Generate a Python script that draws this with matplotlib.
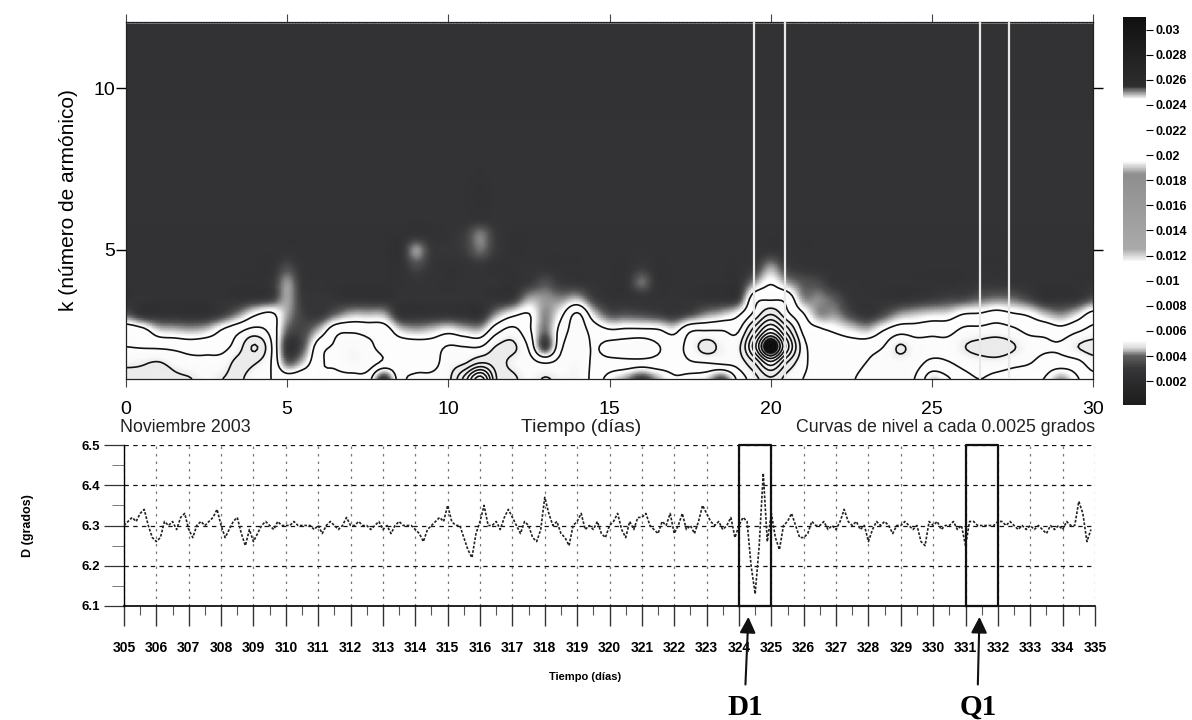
import numpy as np
import matplotlib
matplotlib.use("Agg")
import matplotlib.pyplot as plt
from matplotlib.cm import ScalarMappable
from matplotlib.colors import LinearSegmentedColormap, Normalize

plt.rcParams["font.family"] = ["Liberation Sans", "DejaVu Sans"]

W, H = 1192, 720

# harmonic amplitude, in 1e-4 grados
# one line per half day (t = 0, 0.5 ... 30), k = 1, 1.5 ... 5.5
k_rows = [1, 1.5, 2, 2.5, 3, 3.5, 4, 4.5, 5, 5.5, 6, 8, 10, 12]
amp_lines = [
    [140, 118, 100, 95, 42, 26, 25, 25, 25, 25],
    [135, 122, 98, 84, 28, 26, 25, 25, 25, 25],
    [150, 127, 96, 62, 26, 25, 25, 25, 25, 25],
    [132, 115, 94, 58, 26, 25, 25, 25, 25, 25],
    [126, 108, 90, 55, 25, 25, 25, 25, 25, 25],
    [115, 105, 92, 60, 26, 25, 25, 25, 25, 25],
    [125, 112, 92, 78, 34, 26, 25, 25, 25, 25],
    [130, 133, 115, 95, 50, 26, 25, 25, 25, 25],
    [108, 127, 153, 108, 72, 28, 25, 25, 25, 25],
    [100, 100, 103, 92, 80, 32, 28, 25, 25, 25],
    [88, 44, 28, 42, 52, 52, 50, 36, 26, 25],
    [95, 60, 40, 36, 33, 30, 28, 26, 25, 25],
    [98, 96, 90, 58, 30, 28, 26, 25, 25, 25],
    [95, 103, 103, 92, 44, 27, 25, 25, 25, 25],
    [92, 115, 115, 96, 56, 26, 25, 25, 25, 25],
    [88, 112, 106, 92, 56, 26, 25, 25, 25, 25],
    [25, 95, 92, 88, 54, 26, 25, 25, 25, 25],
    [90, 92, 90, 62, 28, 26, 25, 25, 25, 25],
    [105, 90, 88, 55, 26, 26, 27, 36, 50, 26],
    [106, 92, 88, 60, 27, 26, 26, 28, 30, 25],
    [118, 112, 102, 68, 28, 26, 25, 25, 28, 26],
    [185, 122, 100, 60, 26, 26, 26, 26, 32, 32],
    [265, 150, 100, 58, 26, 26, 26, 28, 44, 46],
    [150, 137, 127, 92, 52, 26, 26, 25, 30, 30],
    [131, 118, 130, 108, 70, 30, 25, 25, 25, 25],
    [115, 110, 96, 80, 76, 52, 30, 26, 25, 25],
    [127, 99, 32, 44, 48, 50, 38, 26, 25, 25],
    [118, 108, 96, 85, 70, 48, 30, 25, 25, 25],
    [118, 116, 114, 112, 104, 55, 28, 25, 25, 25],
    [92, 96, 98, 90, 62, 34, 26, 25, 25, 25],
    [66, 92, 108, 78, 40, 26, 25, 25, 25, 25],
    [50, 92, 112, 80, 40, 26, 26, 25, 25, 25],
    [30, 90, 115, 80, 38, 27, 44, 30, 26, 25],
    [52, 90, 102, 78, 34, 26, 26, 25, 25, 25],
    [72, 86, 90, 68, 30, 26, 25, 25, 25, 25],
    [66, 97, 110, 97, 38, 26, 25, 25, 25, 25],
    [60, 100, 135, 100, 50, 26, 25, 25, 25, 25],
    [35, 105, 118, 100, 58, 26, 25, 25, 25, 25],
    [82, 110, 118, 98, 72, 32, 26, 25, 25, 25],
    [115, 150, 215, 165, 108, 90, 50, 30, 26, 25],
    [145, 215, 335, 235, 150, 95, 72, 50, 27, 25],
    [115, 150, 215, 165, 108, 92, 52, 32, 26, 25],
    [100, 108, 112, 95, 78, 50, 40, 27, 25, 25],
    [90, 88, 88, 80, 50, 48, 36, 26, 25, 25],
    [85, 86, 88, 72, 50, 40, 27, 25, 25, 25],
    [97, 90, 86, 64, 36, 28, 26, 25, 25, 25],
    [108, 101, 90, 58, 28, 26, 25, 25, 25, 25],
    [108, 110, 100, 75, 38, 26, 25, 25, 25, 25],
    [112, 115, 128, 90, 52, 26, 25, 25, 25, 25],
    [98, 108, 112, 88, 58, 28, 25, 25, 25, 25],
    [60, 94, 108, 92, 62, 31, 25, 25, 25, 25],
    [72, 98, 108, 92, 64, 34, 25, 25, 25, 25],
    [92, 108, 124, 106, 76, 36, 26, 25, 25, 25],
    [100, 114, 133, 108, 78, 42, 28, 25, 25, 25],
    [92, 115, 138, 112, 85, 46, 28, 25, 25, 25],
    [85, 108, 128, 106, 78, 44, 27, 25, 25, 25],
    [78, 102, 112, 94, 72, 36, 26, 25, 25, 25],
    [74, 90, 104, 92, 58, 26, 25, 25, 25, 25],
    [50, 88, 104, 84, 50, 26, 25, 25, 25, 25],
    [72, 92, 124, 96, 62, 28, 25, 25, 25, 25],
    [92, 112, 134, 108, 84, 38, 26, 25, 25, 25],
]
amp_upper = [26, 26, 25, 25]  # k = 6, 8, 10, 12, flat background

contour_levels = [0.0075 + 0.0025 * i for i in range(11)]
white_lines = [19.48, 20.46, 26.5, 27.4]

cbar_ticks = [0.002, 0.004, 0.006, 0.008, 0.01, 0.012, 0.014, 0.016, 0.018, 0.02,
              0.022, 0.024, 0.026, 0.028, 0.03]
cbar_labels = ["0.002", "0.004", "0.006", "0.008", "0.01", "0.012", "0.014", "0.016",
               "0.018", "0.02", "0.022", "0.024", "0.026", "0.028", "0.03"]

# declination D, 8 readings per day, one line per day from 305 to 334
d_lines = [
    [6.30, 6.31, 6.32, 6.31, 6.33, 6.34, 6.30, 6.27],
    [6.26, 6.27, 6.31, 6.30, 6.31, 6.29, 6.32, 6.33],
    [6.29, 6.27, 6.30, 6.31, 6.30, 6.31, 6.32, 6.34],
    [6.30, 6.27, 6.29, 6.31, 6.32, 6.28, 6.25, 6.29],
    [6.26, 6.28, 6.30, 6.31, 6.30, 6.29, 6.31, 6.30],
    [6.30, 6.30, 6.31, 6.30, 6.30, 6.30, 6.30, 6.29],
    [6.30, 6.28, 6.30, 6.31, 6.30, 6.29, 6.30, 6.32],
    [6.30, 6.30, 6.31, 6.30, 6.30, 6.29, 6.30, 6.31],
    [6.29, 6.30, 6.28, 6.30, 6.31, 6.30, 6.30, 6.30],
    [6.29, 6.28, 6.26, 6.29, 6.30, 6.31, 6.32, 6.31],
    [6.35, 6.31, 6.30, 6.30, 6.27, 6.24, 6.22, 6.28],
    [6.31, 6.35, 6.30, 6.30, 6.31, 6.29, 6.32, 6.34],
    [6.32, 6.30, 6.28, 6.31, 6.30, 6.27, 6.26, 6.29],
    [6.37, 6.33, 6.30, 6.31, 6.28, 6.27, 6.25, 6.30],
    [6.31, 6.33, 6.29, 6.30, 6.29, 6.31, 6.28, 6.27],
    [6.30, 6.31, 6.33, 6.29, 6.27, 6.31, 6.29, 6.32],
    [6.32, 6.33, 6.30, 6.29, 6.28, 6.31, 6.30, 6.33],
    [6.28, 6.30, 6.33, 6.29, 6.30, 6.28, 6.31, 6.35],
    [6.33, 6.31, 6.30, 6.31, 6.29, 6.30, 6.32, 6.27],
    [6.30, 6.32, 6.31, 6.20, 6.13, 6.25, 6.43, 6.26],
    [6.33, 6.27, 6.24, 6.30, 6.31, 6.33, 6.30, 6.27],
    [6.27, 6.28, 6.31, 6.30, 6.30, 6.31, 6.29, 6.30],
    [6.29, 6.31, 6.34, 6.31, 6.30, 6.31, 6.29, 6.30],
    [6.26, 6.29, 6.31, 6.30, 6.31, 6.30, 6.28, 6.30],
    [6.30, 6.31, 6.30, 6.29, 6.30, 6.26, 6.25, 6.31],
    [6.30, 6.31, 6.29, 6.30, 6.30, 6.31, 6.29, 6.30],
    [6.25, 6.31, 6.31, 6.30, 6.30, 6.30, 6.30, 6.30],
    [6.31, 6.31, 6.30, 6.31, 6.30, 6.29, 6.30, 6.29],
    [6.30, 6.29, 6.30, 6.29, 6.28, 6.30, 6.29, 6.30],
    [6.29, 6.31, 6.30, 6.30, 6.36, 6.33, 6.26, 6.29],
]
d_values = np.concatenate(d_lines)
d_days = 305 + np.arange(len(d_values)) / 8

day_ticks = list(range(305, 336))


def add_axes_px(left, top, right, bottom):
    return fig.add_axes([left / W, 1 - bottom / H, (right - left) / W, (bottom - top) / H])


def refine(a, n, axis):
    # catmull-rom between the read values, only so the map is not blocky
    a = np.moveaxis(a, axis, 0)
    pos = np.linspace(0, a.shape[0] - 1, (a.shape[0] - 1) * n + 1)
    i = np.clip(pos.astype(int), 0, a.shape[0] - 2)
    u = (pos - i).reshape((-1,) + (1,) * (a.ndim - 1))
    p0 = a[np.clip(i - 1, 0, None)]
    p1 = a[i]
    p2 = a[i + 1]
    p3 = a[np.clip(i + 2, None, a.shape[0] - 1)]
    out = 0.5 * (2 * p1 + (p2 - p0) * u + (2 * p0 - 5 * p1 + 4 * p2 - p3) * u**2
                 + (3 * p1 - p0 - 3 * p2 + p3) * u**3)
    return np.moveaxis(out, 0, axis)


amp = np.array(amp_lines, dtype=float).T
amp = np.vstack([amp, np.tile(np.array(amp_upper, dtype=float)[:, None], (1, amp.shape[1]))]) * 1e-4
amp_fine = refine(refine(amp, 6, 0), 6, 1)
t_fine = np.linspace(0, 30, amp_fine.shape[1])
k_fine = np.interp(np.linspace(0, len(k_rows) - 1, amp_fine.shape[0]), np.arange(len(k_rows)), k_rows)

vmax = 0.031
# the scan prints the bar darker than the map, so each has its own grey ramp
map_stops = [(0, "#1c1c1c"), (0.002, "#2c2c2e"), (0.003, "#38383a"), (0.004, "#555556"),
             (0.0055, "#bbbbbb"), (0.0066, "#ffffff"), (0.0115, "#fbfbfb"), (0.0125, "#ebebeb"),
             (0.0185, "#eeeeee"), (0.0195, "#fbfbfb"), (0.028, "#f4f4f4"), (0.0295, "#1a1a1a"),
             (vmax, "#0c0c0c")]
bar_stops = [(0, "#1c1c1c"), (0.002, "#2c2c2e"), (0.003, "#38383a"), (0.004, "#606060"),
             (0.0046, "#d8d8d8"), (0.0052, "#ffffff"), (0.0115, "#ffffff"), (0.0125, "#aaaaaa"),
             (0.0185, "#8e8e8e"), (0.0195, "#ffffff"), (0.0245, "#ffffff"), (0.0255, "#2e2e2e"),
             (vmax, "#101010")]
map_cmap = LinearSegmentedColormap.from_list("mapa", [(v / vmax, c) for v, c in map_stops], N=512)
bar_cmap = LinearSegmentedColormap.from_list("barra", [(v / vmax, c) for v, c in bar_stops], N=512)
norm = Normalize(0, vmax)

fig = plt.figure(figsize=(W / 100, H / 100), dpi=100)

# --- map ---
ax = add_axes_px(126, 22, 1093, 379)
ax.pcolormesh(t_fine, k_fine, amp_fine, cmap=map_cmap, norm=norm, shading="gouraud")
ax.contour(t_fine, k_fine, amp_fine, levels=contour_levels, colors="#111111", linewidths=1.2)
for t in white_lines:
    ax.axvline(t, color="#e8e8e8", lw=1.6, zorder=5)
ax.set_xlim(0, 30)
ax.set_ylim(1, 12.06)
ax.set_xticks([0, 5, 10, 15, 20, 25, 30])
ax.set_yticks([5, 10])
ax.tick_params(axis="x", length=5.5, width=0.8, top=True, labelsize=14, pad=10, color="#444444")
ax.tick_params(axis="y", length=7, width=1.0, right=True, labelsize=14, pad=1)
ax.set_ylabel("k (número de armónico)", fontsize=15, labelpad=11, y=0.50)
for s in ax.spines.values():
    s.set_linewidth(0.9)
    s.set_color("#222222")

# --- colour bar ---
cax = add_axes_px(1123, 17, 1146, 405)
cb = fig.colorbar(ScalarMappable(norm, bar_cmap), cax=cax, ticks=cbar_ticks)
cb.ax.set_ylim(0.0001, vmax)
cb.ax.set_yticklabels(cbar_labels, fontsize=9, fontweight="bold")
cb.ax.tick_params(length=5, width=0.8, pad=2)
cb.outline.set_visible(False)

# --- captions between the panels ---
fig.text(120 / W, 1 - 428 / H, "Noviembre 2003", fontsize=12.8, va="center", color="#222222")
fig.text(581 / W, 1 - 428 / H, "Tiempo (días)", fontsize=14, va="center", ha="center", color="#222222")
fig.text(1095 / W, 1 - 428 / H, "Curvas de nivel a cada 0.0025 grados", fontsize=12.8,
         va="center", ha="right", color="#222222")

# --- magnetogram ---
ax2 = add_axes_px(124, 445, 1095, 606)
ax2.set_xlim(305, 335)
ax2.set_ylim(6.1, 6.5)
ax2.plot(d_days, d_values, color="#222222", lw=1.2, ls=(0, (1.6, 1.0)), zorder=3)
ax2.set_xticks(day_ticks)
ax2.set_xticks(np.arange(305.5, 335, 1), minor=True)
ax2.set_yticks([6.1, 6.2, 6.3, 6.4, 6.5])
ax2.set_yticks(np.arange(6.15, 6.5, 0.1), minor=True)
ax2.set_yticklabels(["6.1", "6.2", "6.3", "6.4", "6.5"], fontsize=9.5, fontweight="bold")
ax2.set_xticklabels([str(d) for d in day_ticks], fontsize=10, fontweight="bold")
ax2.tick_params(axis="x", which="major", length=14.4, width=1.0, pad=11, color="#333333")
ax2.tick_params(axis="x", which="minor", length=6.5, width=0.8, color="#555555")
ax2.tick_params(axis="y", which="major", length=14.4, width=0.9, pad=3, color="#333333")
ax2.tick_params(axis="y", which="minor", length=9, width=0.7, color="#777777")
ax2.grid(axis="x", color="#777777", lw=0.9, ls=(0, (2, 4)))
ax2.grid(axis="y", color="#111111", lw=0.9, ls=(0, (3.5, 3.5)))
for side in ["top", "right"]:
    ax2.spines[side].set_visible(False)
ax2.spines["bottom"].set_linewidth(1.2)
ax2.spines["left"].set_linewidth(1.0)
ax2.set_ylabel("D (grados)", fontsize=9, fontweight="bold", labelpad=34)
ax2.set_xlabel("Tiempo (días)", fontsize=8, fontweight="bold", labelpad=12, x=0.475)

# storm / quiet day boxes and their arrows
for day, name, tail_day, tip_day in [(324, "D1", 324.2, 324.29), (331, "Q1", 331.38, 331.43)]:
    ax2.plot([day, day + 1, day + 1, day, day], [6.1, 6.1, 6.5, 6.5, 6.1], color="#111111",
             lw=1.6, zorder=6, clip_on=False)
    ax2.annotate("", xy=(tip_day, 6.073), xytext=(tail_day, 5.905), annotation_clip=False,
                 arrowprops=dict(arrowstyle="-|>", mutation_scale=24, lw=1.5, color="#111111",
                                 shrinkA=0, shrinkB=0))
    ax2.text(tail_day, 5.848, name, family="Liberation Serif", fontweight="bold", fontsize=21,
             ha="center", va="center", clip_on=False)

fig.savefig("out.png", dpi=100)
